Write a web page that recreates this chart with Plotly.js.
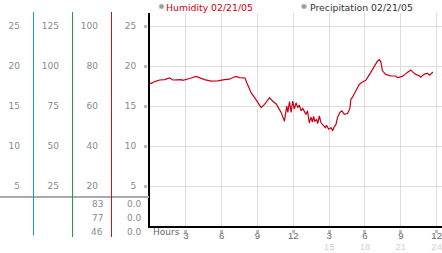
<!DOCTYPE html>
<html><head><meta charset="utf-8">
<script src="https://cdn.plot.ly/plotly-3.0.1.min.js"></script>
<style>html,body{margin:0;padding:0;background:#fff;}#chart{width:442px;height:253px;}</style>
</head><body><div id="chart"></div>
<script>
// ---- data ----
const hours = [0,0.11,0.39,0.81,1.23,1.64,1.91,2.61,2.75,3.02,3.45,3.86,4.28,4.57,5.11,5.67,6.23,6.65,7.00,7.20,7.48,7.76,7.96,8.10,8.49,8.76,9.03,9.31,9.59,10.01,10.28,10.57,10.78,10.98,11.26,11.45,11.54,11.68,11.82,11.95,12.09,12.23,12.37,12.51,12.65,12.79,13.06,13.19,13.34,13.48,13.60,13.70,13.80,13.95,14.04,14.18,14.32,14.51,14.68,14.78,14.96,15.16,15.29,15.43,15.57,15.70,15.90,16.07,16.27,16.54,16.74,16.82,16.96,17.24,17.46,17.52,17.79,18.07,18.49,18.76,19.04,19.22,19.33,19.46,19.74,20.16,20.58,20.71,20.99,21.13,21.55,21.83,21.97,22.24,22.52,22.67,22.94,23.22,23.41,23.69];
const humidity = [17.9,17.8,18.05,18.25,18.3,18.5,18.25,18.3,18.2,18.35,18.5,18.7,18.45,18.3,18.1,18.15,18.3,18.35,18.6,18.7,18.55,18.5,18.5,17.9,16.6,16.05,15.4,14.8,15.2,16.05,15.6,15.25,14.7,14.2,13.1,15.0,14.2,15.55,14.2,15.6,14.6,15.4,14.8,15.1,14.4,14.7,13.95,14.4,12.9,13.6,13.0,13.7,13.1,13.3,12.8,13.75,12.9,12.5,12.3,12.6,12.1,12.3,11.9,12.4,12.7,13.55,14.2,14.4,13.95,14.05,14.7,15.85,16.1,16.9,17.5,17.7,18.0,18.2,19.2,19.9,20.6,20.8,20.5,19.4,18.95,18.75,18.75,18.55,18.6,18.7,19.2,19.5,19.3,18.95,18.8,18.6,18.95,19.1,18.85,19.25];
const xTickVals = [3,6,9,12,15,18,21,24];
const xTickRow1 = ['3','6','9','12','3','6','9','12'];
const xTickVals2 = [15,18,21,24];
const xTickRow2 = ['15','18','21','24'];
const col1Labels = [5,10,15,20,25];
const col2Labels = [25,50,75,100,125];
const col3Labels = [20,40,60,80,100];
const col4Labels = [5,10,15,20,25];
const col3Readings = ['83','77','46'];
const col4Readings = ['0.0','0.0','0.0'];
const legendNames = ['Humidity 02/21/05','Precipitation 02/21/05'];
const xAxisName = 'Hours';

// ---- geometry helpers (pixels -> paper) ----
const W = 442, H = 253, TOP = 13, BOT = 226;
const YMAX = (BOT - TOP) / 8;
const px = v => v / W;
const py = v => (H - v) / (H - TOP);
const FONT = 'DejaVu Sans, Verdana, sans-serif';
const XFONT = 'Liberation Sans, Arial, sans-serif';
const LBL = '#8a8a8a';

const traces = [
  {x: hours, y: humidity, type: 'scatter', mode: 'lines', line: {color: '#c80014', width: 1.2}, hoverinfo: 'skip', xaxis: 'x', yaxis: 'y'},
  {x: [], y: [], type: 'scatter', xaxis: 'x2', yaxis: 'y', hoverinfo: 'skip'},
  {x: [], y: [], type: 'scatter', xaxis: 'x3', yaxis: 'y', hoverinfo: 'skip'},
  {x: [], y: [], type: 'scatter', xaxis: 'x', yaxis: 'y2', hoverinfo: 'skip'},
  {x: [], y: [], type: 'scatter', xaxis: 'x', yaxis: 'y3', hoverinfo: 'skip'},
  {x: [], y: [], type: 'scatter', xaxis: 'x', yaxis: 'y4', hoverinfo: 'skip'},
  {x: [], y: [], type: 'scatter', xaxis: 'x', yaxis: 'y5', hoverinfo: 'skip'}
];

const freeY = (pos, scale, labels) => ({
  overlaying: 'y', anchor: 'free', position: px(pos), side: 'left',
  range: [0, YMAX * scale], tickvals: labels, ticktext: labels.map(String),
  showgrid: false, showline: false, zeroline: false, ticks: '',
  fixedrange: true, ticklabeloverflow: 'allow',
  tickfont: {family: FONT, size: 9, color: LBL}
});

const XR = [0, 24.45];
const layout = {
  width: W, height: H,
  margin: {l: 0, r: 0, t: TOP, b: 0, pad: 0},
  paper_bgcolor: '#fff', plot_bgcolor: '#fff',
  showlegend: false,
  font: {family: FONT, size: 9, color: '#888'},
  xaxis: {
    domain: [px(150), 1], range: XR,
    tickvals: xTickVals, ticktext: xTickRow1, tickangle: 0,
    showgrid: true, gridcolor: '#dcdcdc', gridwidth: 1,
    showline: true, linecolor: '#000', linewidth: 2,
    ticks: '', zeroline: false, ticklabelstandoff: 0, fixedrange: true,
    ticklabeloverflow: 'allow',
    tickfont: {family: XFONT, size: 9.5, color: '#666'}
  },
  // small marks just below the axis
  xaxis2: {
    overlaying: 'x', anchor: 'free', position: py(228.5), side: 'bottom', range: XR,
    tickvals: xTickVals, showticklabels: false,
    showgrid: false, showline: false, zeroline: false,
    ticks: 'outside', ticklen: 3, tickwidth: 3, tickcolor: '#bdbdbd', fixedrange: true
  },
  // second row of hour labels
  xaxis3: {
    overlaying: 'x', anchor: 'free', position: py(239.5), side: 'bottom', range: XR,
    tickvals: xTickVals2, ticktext: xTickRow2, tickangle: 0,
    showgrid: false, showline: false, zeroline: false, ticks: '', fixedrange: true,
    ticklabeloverflow: 'allow',
    tickfont: {family: XFONT, size: 9.5, color: '#d2d2d2'}
  },
  yaxis: {
    domain: [py(BOT), 1],
    range: [0, YMAX], tickvals: col4Labels, ticktext: col4Labels.map(String),
    showgrid: true, gridcolor: '#dcdcdc', gridwidth: 1,
    showline: true, linecolor: '#000', linewidth: 2,
    ticks: '', zeroline: false, ticklabelstandoff: 10, fixedrange: true,
    tickfont: {family: FONT, size: 9, color: LBL}
  },
  yaxis2: freeY(20, 1, col1Labels),
  yaxis3: freeY(59, 5, col2Labels),
  yaxis4: freeY(98, 4, col3Labels),
  // small marks next to the value axis
  yaxis5: {
    overlaying: 'y', anchor: 'free', position: px(147), side: 'left',
    range: [0, YMAX], tickvals: col4Labels, showticklabels: false,
    showgrid: false, showline: false, zeroline: false,
    ticks: 'outside', ticklen: 3, tickwidth: 3, tickcolor: '#bdbdbd', fixedrange: true
  },
  shapes: [
    {type: 'line', xref: 'paper', yref: 'paper', x0: 0, x1: px(149), y0: py(197), y1: py(197), line: {color: '#aaaaaa', width: 2}},
    {type: 'line', xref: 'paper', yref: 'paper', x0: px(33.5), x1: px(33.5), y0: py(235.5), y1: py(12), line: {color: '#1e96d2', width: 1}},
    {type: 'line', xref: 'paper', yref: 'paper', x0: px(72.5), x1: px(72.5), y0: py(237), y1: py(12), line: {color: '#22a033', width: 1}},
    {type: 'line', xref: 'paper', yref: 'paper', x0: px(111.5), x1: px(111.5), y0: py(237), y1: py(12), line: {color: '#b01e1e', width: 1}},
    {type: 'circle', xref: 'paper', yref: 'paper', x0: px(159), x1: px(164), y0: py(9), y1: py(4), fillcolor: '#9a9a9a', line: {color: '#cccccc', width: 1}},
    {type: 'circle', xref: 'paper', yref: 'paper', x0: px(301.5), x1: px(306.5), y0: py(9), y1: py(4), fillcolor: '#9a9a9a', line: {color: '#cccccc', width: 1}}
  ],
  annotations: []
};

const rowsY = [204, 218, 232];
col3Readings.forEach((t, i) => layout.annotations.push({xref: 'paper', yref: 'paper', x: px(105), y: py(rowsY[i]), xanchor: 'right', yanchor: 'middle', text: t, showarrow: false, font: {family: FONT, size: 9, color: LBL}}));
col4Readings.forEach((t, i) => layout.annotations.push({xref: 'paper', yref: 'paper', x: px(144), y: py(rowsY[i]), xanchor: 'right', yanchor: 'middle', text: t, showarrow: false, font: {family: FONT, size: 9, color: LBL}}));
layout.annotations.push({xref: 'paper', yref: 'paper', x: px(151), y: py(231.5), xanchor: 'left', yanchor: 'middle', text: xAxisName, showarrow: false, font: {family: FONT, size: 9, color: '#666'}});
layout.annotations.push({xref: 'paper', yref: 'paper', x: px(164), y: py(7), xanchor: 'left', yanchor: 'middle', text: legendNames[0], showarrow: false, font: {family: FONT, size: 9.3, color: '#cc0011'}});
layout.annotations.push({xref: 'paper', yref: 'paper', x: px(308), y: py(7), xanchor: 'left', yanchor: 'middle', text: legendNames[1], showarrow: false, font: {family: FONT, size: 9.3, color: '#333'}});

Plotly.newPlot('chart', traces, layout, {staticPlot: true, displayModeBar: false});
</script></body></html>
